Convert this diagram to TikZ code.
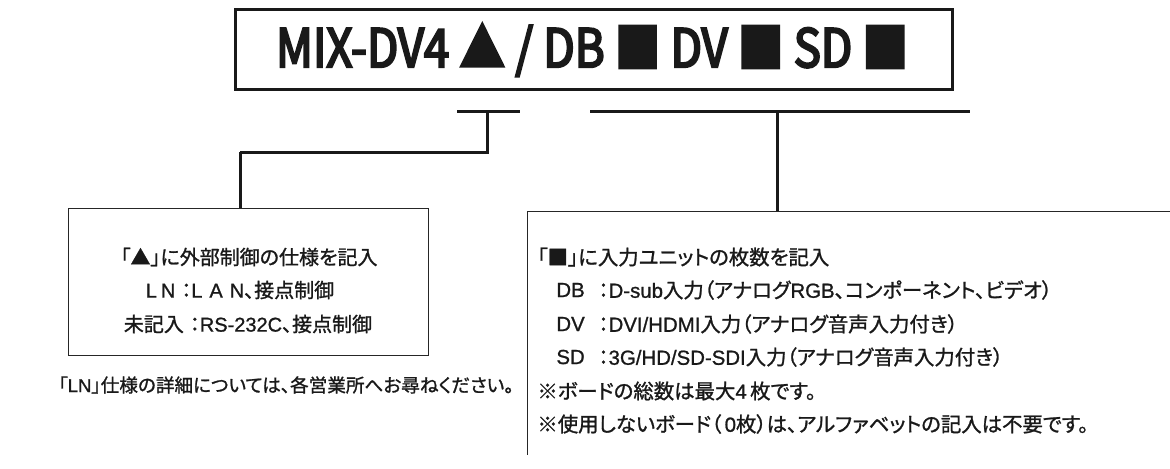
\documentclass[tikz,border=0pt]{standalone}
\usepackage{fontspec}
\setmainfont{Noto Sans CJK JP}
\newfontfamily\jpfont{Noto Sans CJK JP}[RawFeature=+palt, FakeBold=1.2]
\newfontfamily\latfont{Liberation Sans}[FakeBold=1]
\newfontfamily\ttlfont{Noto Sans CJK JP}[FakeStretch=0.86, FakeBold=4]
\newcommand{\lt}[1]{{\latfont #1}}
\begin{document}
\begin{tikzpicture}[x=0.5pt,y=-0.5pt,
  heavy/.style={line width=1.5pt, draw=black!90},
  light/.style={line width=0.5pt, draw=black!85},
  titlebox/.style={heavy, rectangle, minimum width=358.5pt, minimum height=40pt, inner sep=0pt},
  notebox/.style={light, rectangle, inner sep=0pt},
  jtxt/.style={inner sep=0pt, font=\jpfont\fontsize{10.2}{12}\selectfont, text=black!90},
  jsm/.style={inner sep=0pt, font=\jpfont\fontsize{10}{12}\selectfont, text=black!90},
  ttl/.style={inner sep=0pt, font=\ttlfont\fontsize{26.5}{29}\selectfont, text=black!90}
]
\useasboundingbox (0,0) rectangle (1170,468);

% title
\node[titlebox] (title) at (593.5,49) {};
\node[ttl] (titletext) at (592,50) {MIX-DV4 ▲ / DB ■ DV ■ SD ■};

% left connector
\coordinate (lbA) at (457,111);
\coordinate (lbB) at (520,111);
\coordinate (lbM) at (487,111);
\coordinate (lbK) at (487,152);
\coordinate (lbE) at (240,152);
\draw[heavy] (lbA) -- (lbB);
\draw[heavy] (lbM) -- (lbK) -- (lbE);

% left box
\node[notebox, minimum width=180pt, minimum height=73.5pt] (lbox) at (248,281.5) {};
\coordinate (lbTop) at (240,208);
\draw[heavy] (lbE) -- (lbTop);
\node[jsm] (l1) at (249,257) {「▲」に外部制御の仕様を記入};
\node[jsm] (l2) at (240,290) {\lt{L\hspace{2pt}N}\hspace{3pt}：\lt{L\hspace{3.5pt}A\hspace{3.5pt}N}、接点制御};
\node[jsm] (l3) at (248,324) {未記入\hspace{3pt}：\lt{RS-232C}、接点制御};
\node[inner sep=0pt, font=\jpfont\fontsize{9.3}{12}\selectfont, text=black!90, anchor=west] (foot) at (58,385) {「\lt{LN}」仕様の詳細については、各営業所へお尋ねください。};

% right connector
\coordinate (rbA) at (590,111);
\coordinate (rbB) at (970,111);
\coordinate (rbM) at (777,111);
\coordinate (rbTop) at (777,211);
\draw[heavy] (rbA) -- (rbB);
\draw[heavy] (rbM) -- (rbTop);

% right open box
\coordinate (rxTR) at (1170,211);
\coordinate (rxTL) at (527,211);
\coordinate (rxBL) at (527,455);
\draw[light] (rxTR) -- (rxTL) -- (rxBL);

\node[jtxt, anchor=west] (r1) at (537,257) {「■」に入力ユニットの枚数を記入};
\node[jtxt, anchor=west] (r2) at (556,290) {\lt{DB}};
\node[jtxt, anchor=west] (r2b) at (598,290) {：\lt{D-sub}入力（アナログ\lt{RGB}、コンポーネント、ビデオ）};
\node[jtxt, anchor=west] (r3) at (556,324) {\lt{DV}};
\node[jtxt, anchor=west] (r3b) at (598,324) {：\lt{DVI/HDMI}入力（アナログ音声入力付き）};
\node[jtxt, anchor=west] (r4) at (556,357) {\lt{SD}};
\node[jtxt, anchor=west] (r4b) at (598,357) {：\lt{3G/HD/SD-SDI}入力（アナログ音声入力付き）};
\node[jtxt, anchor=west] (r5) at (537,391) {※ボードの総数は最大\lt{4}\,枚です。};
\node[jtxt, anchor=west] (r6) at (537,424) {※使用しないボード（\,\lt{0}枚）は、アルファベットの記入は不要です。};
\end{tikzpicture}
\end{document}
